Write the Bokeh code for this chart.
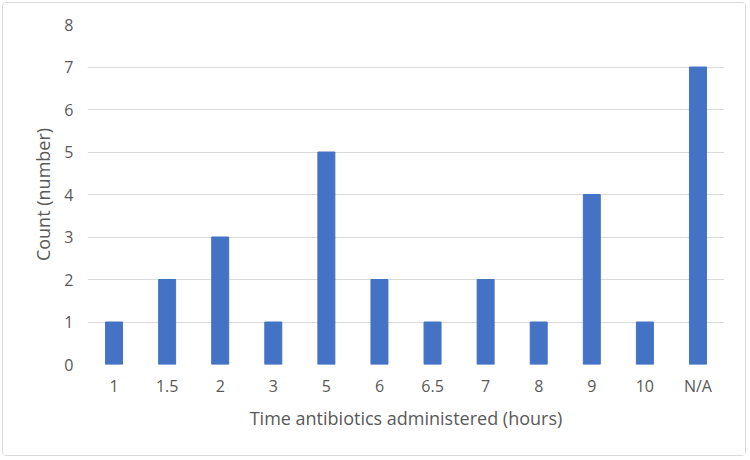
from bokeh.plotting import figure
from bokeh.models import ColumnDataSource, FixedTicker
from bokeh.embed import file_html
from bokeh.resources import INLINE

# Time antibiotics administered (hours) and the number of cases for each
categories = ["1", "1.5", "2", "3", "5", "6", "6.5", "7", "8", "9", "10", "N/A"]
counts = [1, 2, 3, 1, 5, 2, 1, 2, 1, 4, 1, 7]
y_ticks = [0, 1, 2, 3, 4, 5, 6, 7, 8]

FONT = "Open Sans"
TEXT = "#595959"
GRID = "#D9D9D9"
BAR = "#4472C4"

source = ColumnDataSource(data=dict(cat=categories, count=counts))

p = figure(
    x_range=categories,
    y_range=(0, 8),
    width=744,
    height=454,
    output_backend="svg",
    toolbar_location=None,
    min_border_left=84,
    min_border_right=23,
    min_border_top=21,
    min_border_bottom=93,
    styles={"margin": "2px", "border": "1px solid #D9D9D9", "border-radius": "4px"},
)

p.vbar(x="cat", top="count", width=0.32, color=BAR, source=source)

p.outline_line_color = None
p.background_fill_color = "white"
p.border_fill_color = "white"

p.xgrid.grid_line_color = None
p.ygrid.grid_line_color = GRID
p.ygrid.grid_line_width = 1
p.yaxis.ticker = FixedTicker(ticks=y_ticks)

for ax in (p.xaxis[0], p.yaxis[0]):
    ax.axis_line_color = None
    ax.major_tick_line_color = None
    ax.minor_tick_line_color = None
    ax.major_label_text_font = FONT
    ax.major_label_text_font_size = "16px"
    ax.major_label_text_color = TEXT
    ax.axis_label_text_font = FONT
    ax.axis_label_text_font_size = "18px"
    ax.axis_label_text_font_style = "normal"
    ax.axis_label_text_color = TEXT

p.xaxis.axis_label = "Time antibiotics administered (hours)"
p.yaxis.axis_label = "Count (number)"
p.xaxis.major_label_standoff = 4
p.yaxis.major_label_standoff = 8
p.xaxis.axis_label_standoff = 6
p.yaxis.axis_label_standoff = 6
p.x_range.range_padding = 0

open("out.html", "w").write(file_html(p, INLINE))
